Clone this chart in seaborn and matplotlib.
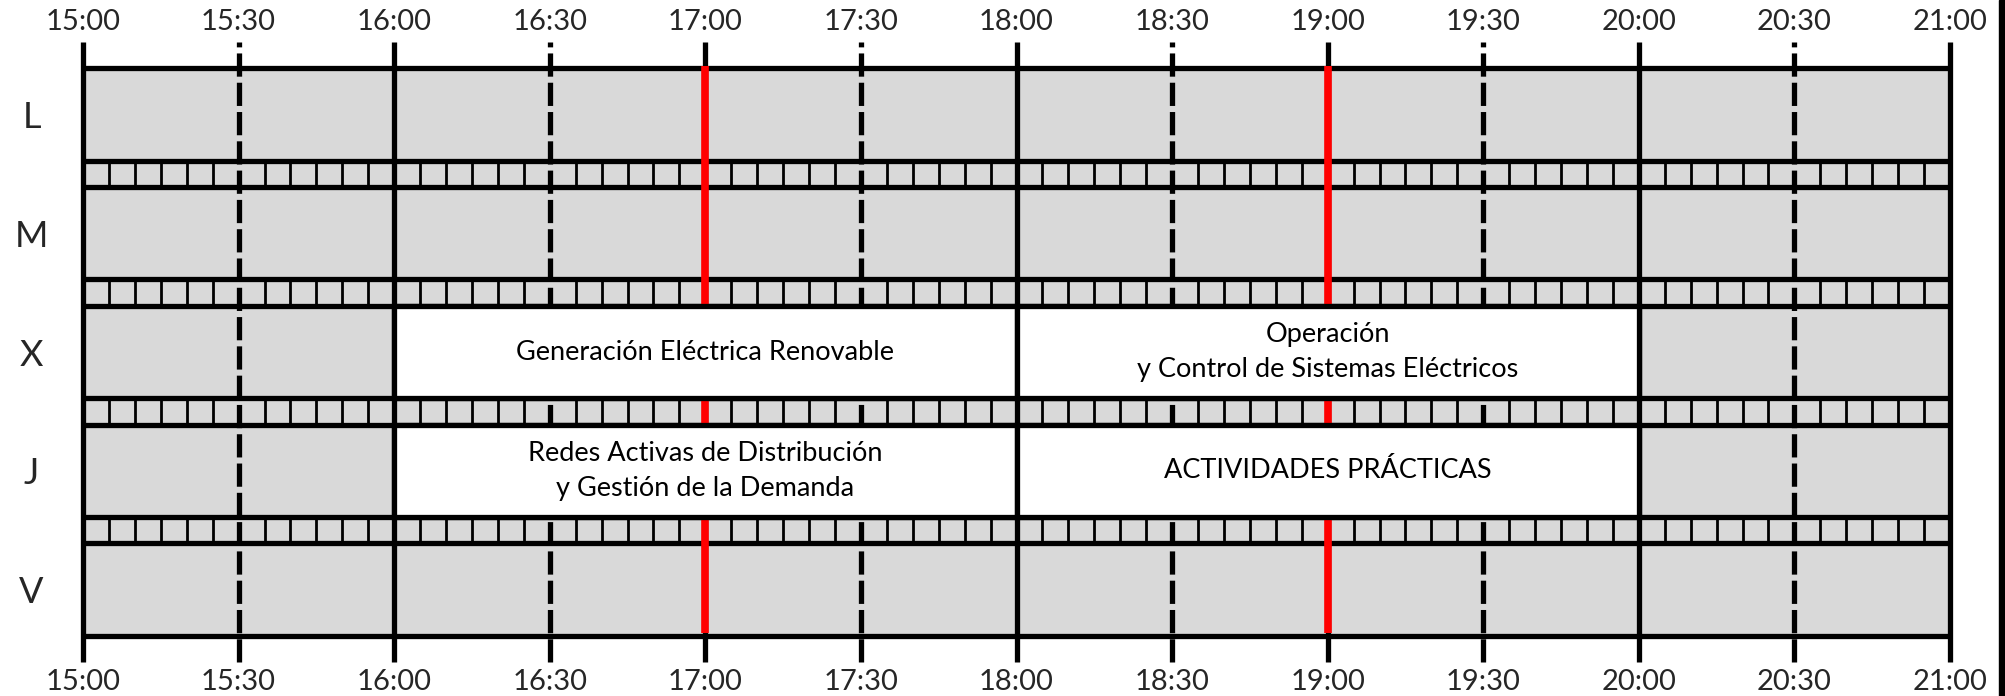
import matplotlib
matplotlib.use("Agg")
import matplotlib.pyplot as plt
from matplotlib.patches import Rectangle
import seaborn as sns

# datos del horario
dias = ["L", "M", "X", "J", "V"]
hora_inicio = 15
hora_fin = 21
etiquetas_hora = ["15:00", "15:30", "16:00", "16:30", "17:00", "17:30", "18:00",
                  "18:30", "19:00", "19:30", "20:00", "20:30", "21:00"]
marcas_rojas = [17, 19]

clase_dia = ["X", "X", "J", "J"]
clase_inicio = [16, 18, 16, 18]
clase_fin = [18, 20, 18, 20]
clase_texto = ["Generación Eléctrica Renovable",
               "Operación\ny Control de Sistemas Eléctricos",
               "Redes Activas de Distribución\ny Gestión de la Demanda",
               "ACTIVIDADES PRÁCTICAS"]

# configs visuais
sns.set_theme(style="white")
plt.rcParams['font.family'] = ['Lato', 'DejaVu Sans']

GRIS = "#D9D9D9"
LW = 3.8
ALTO_FILA = 3.5
ALTO_FRANJA = 1.0

fig = plt.figure(figsize=(20.06, 6.96), dpi=100)
ax = fig.add_axes([83 / 2006, 1 - 662 / 696, (1950 - 83) / 2006, (662 - 42) / 696])

# posiciones de filas y franjas
centros, bordes, franjas = [], [0.0], []
y = 0.0
for i, d in enumerate(dias):
    centros.append(y + ALTO_FILA / 2)
    y += ALTO_FILA
    bordes.append(y)
    if i < len(dias) - 1:
        franjas.append((y, y + ALTO_FRANJA))
        y += ALTO_FRANJA
        bordes.append(y)
total = y
ancho = hora_fin - hora_inicio

# fondo gris
ax.barh(centros, ancho, left=hora_inicio, height=ALTO_FILA, color=GRIS, zorder=1)
ax.barh([(a + b) / 2 for a, b in franjas], ancho, left=hora_inicio,
        height=ALTO_FRANJA, color=GRIS, zorder=1)

# divisiones de 5 minutos en las franjas
minutos = [hora_inicio + k / 12 for k in range(ancho * 12 + 1) if k % 6 != 0]
for a, b in franjas:
    ax.vlines(minutos, a, b, color="black", lw=2.0, zorder=2)

# lineas horizontales
ax.hlines(bordes, hora_inicio, hora_fin, color="black", lw=LW, zorder=3, clip_on=False)

# lineas de hora y media hora
for h in range(hora_inicio, hora_fin + 1):
    ax.axvline(h, color="black", lw=LW, zorder=3, clip_on=False, solid_capstyle="butt")
for h in range(hora_inicio, hora_fin):
    ax.axvline(h + 0.5, color="black", lw=LW, zorder=3, clip_on=False,
               dashes=(4.4, 1.15), dash_capstyle="butt")

# lineas rojas
off = 0.1
ax.vlines(marcas_rojas, -off, total - off, color="#FF0000", lw=5.5, zorder=4)

# clases
for d, x0, x1, txt in zip(clase_dia, clase_inicio, clase_fin, clase_texto):
    yc = centros[dias.index(d)]
    ax.barh(yc, x1 - x0, left=x0, height=ALTO_FILA, color="white",
            edgecolor="black", lw=LW, zorder=5)
    ax.text((x0 + x1) / 2, yc, txt, ha="center", va="center", fontsize=19.5,
            linespacing=1.5, zorder=6, color="black")

ax.set_xlim(hora_inicio, hora_fin)
ax.set_ylim(total + 1, -1)
ax.set_xticks([hora_inicio + 0.5 * i for i in range(len(etiquetas_hora))])
ax.set_xticklabels(etiquetas_hora)
ax.set_yticks(centros)
ax.set_yticklabels(dias)
ax.tick_params(axis="x", top=True, labeltop=True, bottom=True, labelbottom=True,
               length=0, labelsize=21, pad=5)
ax.tick_params(axis="y", length=0, labelsize=26, pad=37)
for lbl in ax.get_yticklabels():
    lbl.set_ha("center")
for s in ax.spines.values():
    s.set_visible(False)
ax.grid(False)

# borde derecho de la imagen
fig.add_artist(Rectangle((1999 / 2006, 0), 7 / 2006, 1, transform=fig.transFigure,
                         color="black"))

fig.savefig("out.png", dpi=100)
